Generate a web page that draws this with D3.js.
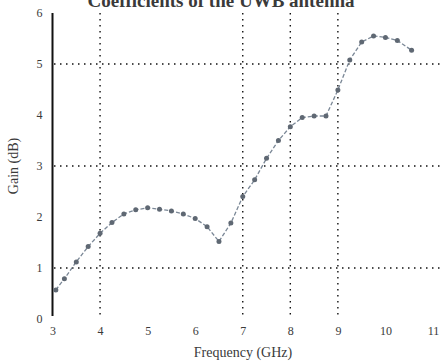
<!DOCTYPE html>
<meta charset="utf-8">
<style>
body { margin: 0; background: #fff; }
text { font-family: "Liberation Serif", "DejaVu Serif", serif; fill: #3a3a3a; }
.grid line { stroke: #111; stroke-width: 1.4; stroke-dasharray: 1.5 4.5; }
</style>
<svg width="443" height="362"></svg>
<script src="https://d3js.org/d3.v7.min.js"></script>
<script>
// gain vs frequency
var freq = [3.07, 3.25, 3.5, 3.75, 4, 4.25, 4.5, 4.75, 5, 5.25, 5.5, 5.75, 6, 6.25, 6.5, 6.75,
            7, 7.25, 7.5, 7.75, 8, 8.25, 8.5, 8.75, 9, 9.25, 9.5, 9.75, 10, 10.25, 10.55];
var gain = [0.57, 0.79, 1.12, 1.42, 1.68, 1.89, 2.06, 2.14, 2.18, 2.15, 2.12, 2.06, 1.97, 1.81, 1.52, 1.88,
            2.40, 2.73, 3.15, 3.50, 3.77, 3.95, 3.98, 3.98, 4.49, 5.08, 5.43, 5.55, 5.52, 5.46, 5.27];
var xTicks = [3, 4, 5, 6, 7, 8, 9, 10, 11];
var yTicks = [0, 1, 2, 3, 4, 5, 6];
var xGrid = [4, 7, 8, 9];
var yGrid = [1, 3, 5];

var svg = d3.select("svg");

var x = d3.scaleLinear().domain([3, 11]).range([52.5, 433]);
var y = d3.scaleLinear().domain([0, 6]).range([319, 13]);

// title, cut off at the top like the source
svg.append("text")
    .attr("x", 221).attr("y", 7)
    .attr("text-anchor", "middle")
    .style("font-size", "19px").style("font-weight", "bold")
    .text("Coefficients of the UWB antenna");

var grid = svg.append("g").attr("class", "grid");
grid.selectAll(".v").data(xGrid).enter().append("line")
    .attr("x1", function(d) { return x(d); }).attr("x2", function(d) { return x(d); })
    .attr("y1", y(6)).attr("y2", 316);
grid.selectAll(".h").data(yGrid).enter().append("line")
    .attr("x1", 54).attr("x2", 443)
    .attr("y1", function(d) { return y(d); }).attr("y2", function(d) { return y(d); });

// y axis
var yAxis = svg.append("g")
    .attr("transform", "translate(" + x(3) + ",0)")
    .call(d3.axisLeft(y).tickValues(yTicks).tickSize(0).tickPadding(10).tickFormat(d3.format("d")));
yAxis.select(".domain").attr("stroke", "#111").attr("stroke-width", 2).attr("d", "M0,13V316");
yAxis.selectAll("text").style("font-size", "12px");

// x axis, no baseline
var xAxis = svg.append("g")
    .attr("transform", "translate(0,322)")
    .call(d3.axisBottom(x).tickValues(xTicks).tickSize(0).tickPadding(4).tickFormat(d3.format("d")));
xAxis.select(".domain").remove();
xAxis.selectAll("text").style("font-size", "12px");

svg.append("text")
    .attr("x", 243).attr("y", 357)
    .attr("text-anchor", "middle")
    .style("font-size", "14px")
    .text("Frequency (GHz)");

svg.append("text")
    .attr("transform", "translate(18,166) rotate(-90)")
    .attr("text-anchor", "middle")
    .style("font-size", "14px")
    .text("Gain (dB)");

var pts = d3.zip(freq, gain);
var line = d3.line()
    .x(function(d) { return x(d[0]); })
    .y(function(d) { return y(d[1]); });

svg.append("path")
    .datum(pts)
    .attr("d", line)
    .attr("fill", "none")
    .attr("stroke", "#7a8796")
    .attr("stroke-width", 1.3)
    .attr("stroke-dasharray", "4 2");

svg.selectAll(".dot").data(pts).enter().append("circle")
    .attr("cx", function(d) { return x(d[0]); })
    .attr("cy", function(d) { return y(d[1]); })
    .attr("r", 2.5)
    .attr("fill", "#5f6873");
</script>
